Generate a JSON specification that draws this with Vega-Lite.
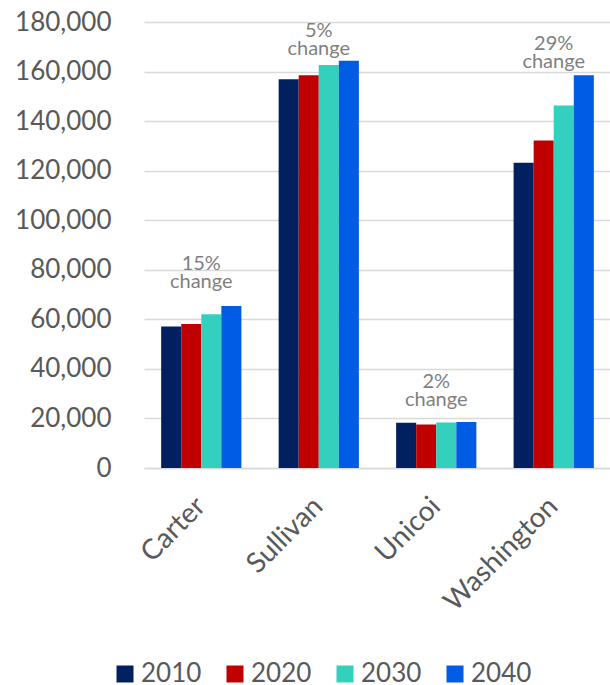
{
  "$schema": "https://vega.github.io/schema/vega-lite/v6.json",
  "autosize": {"type": "none"},
  "padding": {"left": 144, "top": 22, "right": 0, "bottom": 217},
  "width": 467,
  "height": 446,
  "background": "white",
  "config": {
    "font": "Lato",
    "view": {"stroke": null},
    "axis": {"labelFont": "Lato", "labelColor": "#595959", "labelFontSize": 26, "ticks": false, "title": null, "labelOverlap": false}
  },
  "layer": [
    {
      "data": {
        "values": [
          {"county": "Carter", "year": "2010", "population": 57100},
          {"county": "Carter", "year": "2020", "population": 58100},
          {"county": "Carter", "year": "2030", "population": 62100},
          {"county": "Carter", "year": "2040", "population": 65400},
          {"county": "Sullivan", "year": "2010", "population": 156900},
          {"county": "Sullivan", "year": "2020", "population": 158500},
          {"county": "Sullivan", "year": "2030", "population": 162600},
          {"county": "Sullivan", "year": "2040", "population": 164400},
          {"county": "Unicoi", "year": "2010", "population": 18300},
          {"county": "Unicoi", "year": "2020", "population": 17600},
          {"county": "Unicoi", "year": "2030", "population": 18400},
          {"county": "Unicoi", "year": "2040", "population": 18600},
          {"county": "Washington", "year": "2010", "population": 123200},
          {"county": "Washington", "year": "2020", "population": 132200},
          {"county": "Washington", "year": "2030", "population": 146300},
          {"county": "Washington", "year": "2040", "population": 158500}
        ]
      },
      "mark": {"type": "bar"},
      "encoding": {
        "x": {
          "field": "county", "type": "nominal",
          "scale": {"paddingInner": 0.317, "paddingOuter": 0.146},
          "axis": {"labelAngle": -45, "labelAlign": "right", "labelBaseline": "middle", "labelPadding": 34, "labelFontSize": 28,
                   "domainColor": "#d9d9d9", "domainWidth": 1.5, "grid": false}
        },
        "xOffset": {"field": "year", "type": "nominal", "scale": {"paddingInner": 0, "paddingOuter": 0}},
        "y": {
          "field": "population", "type": "quantitative",
          "scale": {"domain": [0, 180000], "nice": false},
          "axis": {"values": [0, 20000, 40000, 60000, 80000, 100000, 120000, 140000, 160000, 180000],
                   "format": ",d", "domain": false, "gridColor": "#d9d9d9", "gridWidth": 1.5, "labelPadding": 33}
        },
        "color": {
          "field": "year", "type": "nominal",
          "scale": {"domain": ["2010", "2020", "2030", "2040"], "range": ["#002060", "#C00000", "#33D0BD", "#005BE5"]},
          "legend": {
            "title": null, "orient": "none", "direction": "horizontal",
            "legendX": -32, "legendY": 639, "padding": 0,
            "symbolType": "square", "symbolSize": 289, "symbolStrokeWidth": 0,
            "labelFontSize": 26, "labelColor": "#595959", "labelFont": "Lato",
            "labelOffset": 3, "columnPadding": 20
          }
        }
      }
    },
    {
      "data": {
        "values": [
          {"county": "Carter", "note": "15%\nchange", "labelAt": 82300},
          {"county": "Sullivan", "note": "5%\nchange", "labelAt": 176400},
          {"county": "Unicoi", "note": "2%\nchange", "labelAt": 34800},
          {"county": "Washington", "note": "29%\nchange", "labelAt": 171000}
        ]
      },
      "mark": {"type": "text", "lineBreak": "\n", "fontSize": 20, "lineHeight": 18, "color": "#7f7f7f", "baseline": "middle", "align": "center"},
      "encoding": {
        "x": {"field": "county", "type": "nominal"},
        "y": {
          "field": "labelAt", "type": "quantitative",
          "axis": {"values": [0, 20000, 40000, 60000, 80000, 100000, 120000, 140000, 160000, 180000],
                   "format": ",d", "domain": false, "gridColor": "#d9d9d9", "gridWidth": 1.5, "labelPadding": 33}
        },
        "text": {"field": "note"}
      }
    }
  ]
}
